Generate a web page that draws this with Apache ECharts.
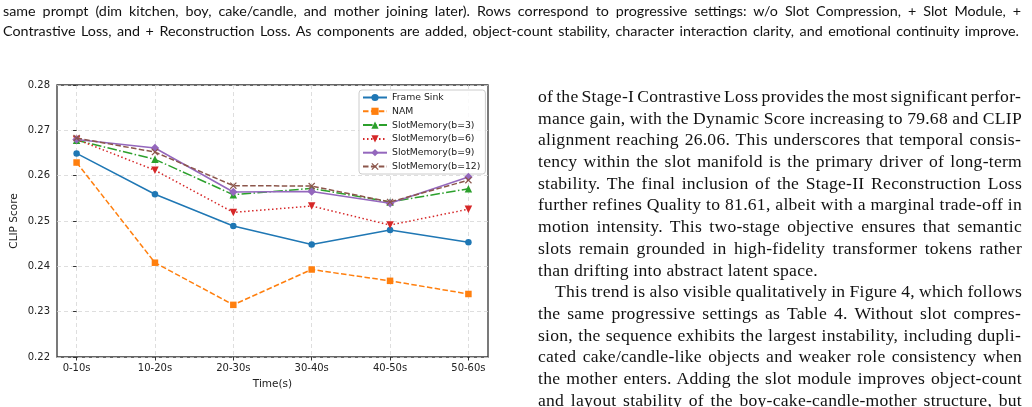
<!DOCTYPE html>
<html>
<head>
<meta charset="utf-8">
<script src="https://cdn.jsdelivr.net/npm/echarts@6/dist/echarts.min.js"></script>
<style>
  html, body { margin: 0; padding: 0; background: #fff; width: 1032px; height: 407px; overflow: hidden; }
  #chart { position: absolute; left: 0; top: 0; width: 1032px; height: 407px; }
  .cap { position: absolute; left: 3px; width: 1018px; font-family: Lato, "Open Sans", sans-serif; font-size: 14.3px; line-height: 20px; color: #111; }
  .col { position: absolute; left: 538px; width: 484px; top: 86px; font-family: "Liberation Serif", "DejaVu Serif", serif; font-size: 17.6px; letter-spacing: 0.25px; color: #111; }
  .cap div, .col div { white-space: nowrap; }
  .col div { height: 21.7px; line-height: 21.7px; }
  .fit span { display: inline-block; }
</style>
</head>
<body>
<div id="chart"></div>
<div class="cap" style="top:1px;">
  <div class="fit" data-w="1018"><span>same prompt (dim kitchen, boy, cake/candle, and mother joining later). Rows correspond to progressive settings: w/o Slot Compression, + Slot Module, +</span></div>
  <div class="fit" data-w="1016"><span>Contrastive Loss, and + Reconstruction Loss. As components are added, object-count stability, character interaction clarity, and emotional continuity improve.</span></div>
</div>
<div class="col">
  <div class="fit" data-w="483"><span>of the Stage-I Contrastive Loss provides the most significant perfor-</span></div>
  <div class="fit" data-w="484"><span>mance gain, with the Dynamic Score increasing to 79.68 and CLIP</span></div>
  <div class="fit" data-w="483"><span>alignment reaching 26.06. This underscores that temporal consis-</span></div>
  <div class="fit" data-w="484"><span>tency within the slot manifold is the primary driver of long-term</span></div>
  <div class="fit" data-w="484"><span>stability. The final inclusion of the Stage-II Reconstruction Loss</span></div>
  <div class="fit" data-w="484"><span>further refines Quality to 81.61, albeit with a marginal trade-off in</span></div>
  <div class="fit" data-w="484"><span>motion intensity. This two-stage objective ensures that semantic</span></div>
  <div class="fit" data-w="484"><span>slots remain grounded in high-fidelity transformer tokens rather</span></div>
  <div><span>than drifting into abstract latent space.</span></div>
  <div class="fit" data-w="467" style="padding-left:17px;"><span>This trend is also visible qualitatively in Figure 4, which follows</span></div>
  <div class="fit" data-w="483"><span>the same progressive settings as Table 4. Without slot compres-</span></div>
  <div class="fit" data-w="483"><span>sion, the sequence exhibits the largest instability, including dupli-</span></div>
  <div class="fit" data-w="484"><span>cated cake/candle-like objects and weaker role consistency when</span></div>
  <div class="fit" data-w="484"><span>the mother enters. Adding the slot module improves object-count</span></div>
  <div class="fit" data-w="484"><span>and layout stability of the boy-cake-candle-mother structure, but</span></div>
</div>
<script>
// justify each text line to its measured target width
document.querySelectorAll('.fit').forEach(d => {
  const s = d.querySelector('span');
  const target = parseFloat(d.getAttribute('data-w'));
  const natural = s.getBoundingClientRect().width;
  const spaces = (s.textContent.match(/ /g) || []).length;
  if (spaces > 0) s.style.wordSpacing = ((target - natural) / spaces) + 'px';
});

const categories = ['0-10s', '10-20s', '20-30s', '30-40s', '40-50s', '50-60s'];
const yTicks = [0.22, 0.23, 0.24, 0.25, 0.26, 0.27, 0.28];
const seriesNames = ['Frame Sink', 'NAM', 'SlotMemory(b=3)', 'SlotMemory(b=6)', 'SlotMemory(b=9)', 'SlotMemory(b=12)'];
const frameSink = [0.2649, 0.2559, 0.2489, 0.2448, 0.2480, 0.2453];
const nam       = [0.2629, 0.2408, 0.2315, 0.2393, 0.2368, 0.2339];
const slotB3    = [0.2678, 0.2636, 0.2558, 0.2572, 0.2542, 0.2571];
const slotB6    = [0.2680, 0.2612, 0.2519, 0.2533, 0.2491, 0.2526];
const slotB9    = [0.2680, 0.2661, 0.2564, 0.2565, 0.2539, 0.2597];
const slotB12   = [0.2683, 0.2652, 0.2578, 0.2577, 0.2542, 0.2590];

const catIdx = categories.map((c, i) => i);
const FONT = '"DejaVu Sans", sans-serif';
const xMark = 'path://M0,1.2L1.2,0L5,3.8L8.8,0L10,1.2L6.2,5L10,8.8L8.8,10L5,6.2L1.2,10L0,8.8L3.8,5Z';

const styles = [
  { color: '#1f77b4', type: 'solid',         symbol: 'circle',   size: 6.5, rot: 0 },
  { color: '#ff7f0e', type: [5.5, 2.4],      symbol: 'rect',     size: 6.5, rot: 0 },
  { color: '#2ca02c', type: [9.6, 2.4, 1.5, 2.4], symbol: 'triangle', size: 7.5, rot: 0 },
  { color: '#d62728', type: [1.5, 2.5],      symbol: 'triangle', size: 7.5, rot: 180 },
  { color: '#9467bd', type: 'solid',         symbol: 'diamond',  size: 8.5, rot: 0 },
  { color: '#8c564b', type: [5.5, 2.4],      symbol: xMark,      size: 7,   rot: 0 }
];
const values = [frameSink, nam, slotB3, slotB6, slotB9, slotB12];

const series = values.map((vals, k) => ({
  name: seriesNames[k],
  type: 'line',
  data: vals.map((v, i) => [catIdx[i], v]),
  symbol: styles[k].symbol,
  symbolSize: styles[k].size,
  symbolRotate: styles[k].rot,
  showAllSymbol: true,
  lineStyle: { color: styles[k].color, width: 1.5, type: styles[k].type, cap: 'butt' },
  itemStyle: { color: styles[k].color },
  emphasis: { disabled: true },
  z: 3 + k
}));

const chart = echarts.init(document.getElementById('chart'), null, { renderer: 'canvas' });
chart.setOption({
  animation: false,
  backgroundColor: 'transparent',
  grid: { left: 57, top: 85, width: 431, height: 272, show: true, borderColor: '#333', borderWidth: 1.3, backgroundColor: 'transparent' },
  legend: {
    orient: 'vertical',
    left: 359, top: 90,
    padding: [2, 5, 2, 3],
    itemWidth: 24, itemHeight: 9, itemGap: 2.8,
    backgroundColor: 'rgba(255,255,255,0.85)',
    borderColor: '#cccccc', borderWidth: 1, borderRadius: 3,
    textStyle: { fontFamily: FONT, fontSize: 9.3, color: '#222', lineHeight: 11 },
    data: seriesNames,
    selectedMode: false
  },
  xAxis: {
    type: 'value',
    min: -0.25, max: 5.25,
    name: 'Time(s)', nameLocation: 'middle', nameGap: 22,
    nameTextStyle: { fontFamily: FONT, fontSize: 10.5, color: '#222' },
    axisLine: { show: false },
    axisTick: { show: true, length: 3.5, customValues: catIdx, lineStyle: { color: '#333', width: 1 } },
    axisLabel: { customValues: catIdx, formatter: v => categories[Math.round(v)], fontFamily: FONT, fontSize: 10, color: '#222', margin: 6 },
    splitLine: { show: true, lineStyle: { color: '#d6d6d6', width: 0.8, type: [4, 3] } }
  },
  yAxis: {
    type: 'value',
    min: yTicks[0], max: yTicks[yTicks.length - 1], interval: 0.01,
    name: 'CLIP Score', nameLocation: 'middle', nameGap: 37, nameRotate: 90,
    nameTextStyle: { fontFamily: FONT, fontSize: 10.5, color: '#222' },
    axisLine: { show: false },
    axisTick: { show: true, length: 3.5, lineStyle: { color: '#333', width: 1 } },
    axisLabel: { formatter: v => v.toFixed(2), fontFamily: FONT, fontSize: 10, color: '#222', margin: 7 },
    splitLine: { show: true, lineStyle: { color: '#d6d6d6', width: 0.8, type: [4, 3] } }
  },
  series: series
});
</script>
</body>
</html>
